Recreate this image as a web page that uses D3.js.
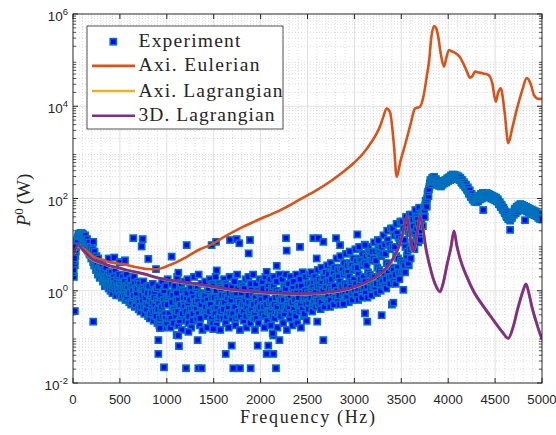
<!DOCTYPE html>
<html>
<head>
<meta charset="utf-8">
<script src="https://cdn.jsdelivr.net/npm/d3@7"></script>
<style>
  html, body { margin: 0; padding: 0; background: #fff; }
  svg { display: block; }
</style>
</head>
<body>
<svg id="chart" width="556" height="435"></svg>
<script>
// ---------------- DATA ----------------
const xTicks = [0, 500, 1000, 1500, 2000, 2500, 3000, 3500, 4000, 4500, 5000];
const yTickExps = [-2, 0, 2, 4, 6];

const seriesNames = ["Experiment", "Axi. Eulerian", "Axi. Lagrangian", "3D. Lagrangian"];

// Experiment, sweep A: 10..5000 Hz (step 10), values as log10(P)
const expBandFreq = d3.range(10, 5001, 10);
const expBandLog = [
  0.30, 0.55, 0.85, 1.05, 1.15, 1.20, 1.24, 1.25, 1.25, 1.24,
  1.22, 1.15, 1.20, 1.10, 1.12, 1.00, 1.05, 0.92, 0.95, 0.82,
  0.90, 0.70, 0.85, 0.60, 0.75, 0.50, 0.70, 0.40, 0.60, 0.35,
  0.55, 0.20, 0.45, 0.10, 0.50, 0.15, 0.35, 0.05, 0.40, 0.00,
  0.40, -0.05, 0.30, 0.10, 0.45, -0.10, 0.25, 0.05, 0.35, -0.10,
  0.62, -0.15, 0.30, 0.00, 0.20, -0.20, 0.35, -0.05, 0.15, -0.25,
  0.25, -0.30, 0.10, -0.15, 0.30, -0.35, 0.05, -0.20, 0.20, -0.40,
  0.15, -0.45, 0.00, -0.20, 0.20, -0.50, -0.05, -0.30, 0.10, -0.55,
  0.10, -0.60, -0.10, -0.35, 0.15, -0.65, -0.05, -0.40, 0.05, -0.70,
  0.10, -0.75, -0.15, -0.40, 0.20, -0.80, 0.00, -0.50, 0.10, -0.70,
  0.25, -0.60, -0.10, -0.80, 0.15, -0.35, -0.70, 0.05, -0.45, -0.20,
  0.30, -0.75, -0.25, 0.10, -0.55, -0.85, 0.00, -0.30, 0.20, -0.65,
  -0.15, 0.25, -0.70, -0.40, 0.10, -0.80, -0.05, -0.50, 0.30, -0.25,
  0.05, -0.60, -0.20, 0.35, -0.75, -0.35, 0.15, -0.85, -0.10, -0.45,
  0.20, -0.50, -0.80, 0.00, -0.30, 0.25, -0.65, -0.15, -0.70, 0.10,
  -0.40, 0.30, -0.75, -0.20, 0.15, -0.55, -0.85, 0.05, -0.30, -0.60,
  0.25, -0.10, -0.70, 0.10, -0.45, -0.80, 0.30, -0.25, -0.60, 0.00,
  -0.35, 0.20, -0.75, -0.05, 0.35, -0.55, -0.20, -0.85, 0.15, -0.40,
  0.10, -0.65, -0.30, 0.25, -0.80, -0.10, 0.30, -0.50, -0.70, 0.05,
  -0.25, 0.35, -0.60, -0.85, 0.15, -0.40, 0.00, -0.70, 0.25, -0.15,
  -0.55, 0.20, -0.30, -0.80, 0.30, -0.10, -0.65, 0.10, -0.45, 0.25,
  -0.75, 0.05, -0.35, 0.30, -0.60, -0.15, 0.20, -0.80, -0.05, 0.35,
  -0.50, -0.20, 0.25, -0.70, 0.10, -0.40, 0.35, -0.85, -0.10, 0.15,
  -0.60, 0.30, -0.25, -0.75, 0.20, -0.05, -0.50, 0.35, -0.70, 0.10,
  -0.35, 0.25, -0.80, 0.00, 0.40, -0.55, -0.15, 0.30, -0.65, 0.15,
  -0.40, 0.35, -0.10, 0.40, -0.45, 0.10, -0.25, 0.30, -0.35, 0.20,
  0.45, -0.30, 0.15, -0.40, 0.50, -0.05, 0.30, -0.35, 0.40, -0.15,
  0.55, -0.25, 0.20, -0.35, 0.60, 0.00, 0.40, -0.30, 0.50, -0.10,
  0.70, -0.20, 0.30, -0.30, 0.75, 0.05, 0.45, -0.25, 0.60, -0.05,
  0.80, -0.15, 0.40, -0.25, 0.85, 0.10, 0.55, -0.20, 0.70, 0.00,
  0.90, -0.10, 0.50, -0.20, 0.95, 0.15, 0.65, -0.15, 0.80, 0.05,
  1.00, -0.05, 0.55, -0.15, 0.95, 0.20, 0.75, -0.10, 0.85, 0.10,
  1.05, 0.05, 0.65, -0.05, 1.10, 0.30, 0.85, 0.00, 0.95, 0.20,
  1.20, 0.10, 0.80, 0.05, 1.30, 0.40, 1.00, 0.15, 1.35, 0.30,
  1.35, 0.20, 0.95, 0.15, 1.45, 0.50, 1.15, 0.25, 1.50, 0.40,
  1.50, 0.45, 1.10, 0.40, 1.60, 0.75, 1.30, 0.55, 1.65, 0.70,
  1.65, 0.95, 1.40, 0.90, 1.75, 1.15, 1.55, 1.05, 1.80, 1.20,
  1.45, 1.70, 1.40, 1.80, 1.60, 1.95, 1.85, 2.10, 2.05, 2.25,
  2.40, 2.30, 2.45, 2.38, 2.47, 2.35, 2.42, 2.30, 2.38, 2.28,
  2.32, 2.26, 2.34, 2.30, 2.38, 2.33, 2.40, 2.35, 2.44, 2.38,
  2.46, 2.40, 2.50, 2.43, 2.52, 2.45, 2.51, 2.44, 2.50, 2.42,
  2.48, 2.40, 2.45, 2.36, 2.40, 2.30, 2.35, 2.26, 2.30, 2.20,
  2.24, 2.12, 2.18, 2.05, 2.10, 1.98, 2.04, 1.93, 2.00, 1.92,
  2.02, 1.94, 2.06, 1.98, 2.10, 2.00, 2.12, 2.02, 2.10, 2.03,
  2.12, 2.04, 2.10, 2.03, 2.08, 2.00, 2.06, 1.98, 2.04, 1.96,
  2.02, 1.94, 1.98, 1.88, 1.92, 1.82, 1.86, 1.76, 1.80, 1.70,
  1.72, 1.62, 1.66, 1.55, 1.60, 1.52, 1.62, 1.58, 1.70, 1.65,
  1.78, 1.68, 1.82, 1.72, 1.85, 1.76, 1.88, 1.78, 1.86, 1.76,
  1.84, 1.74, 1.82, 1.72, 1.80, 1.70, 1.78, 1.68, 1.76, 1.66,
  1.74, 1.64, 1.72, 1.62, 1.68, 1.58, 1.66, 1.55, 1.62, 1.55
];

// Experiment, sweep B: 5..4995 Hz (step 10), values as log10(P)
const expBand2Freq = d3.range(5, 5000, 10);
const expBand2Log = [
  0.40, 0.65, 0.75, 0.95, 1.10, 1.18, 1.22, 1.20, 1.18, 1.15,
  1.18, 1.10, 1.05, 1.00, 0.95, 0.90, 0.85, 0.80, 0.78, 0.70,
  0.75, 0.62, 0.55, 0.68, 0.45, 0.55, 0.35, 0.48, 0.28, 0.45,
  0.30, 0.40, 0.25, 0.30, 0.20, 0.28, 0.12, 0.22, 0.15, 0.25,
  0.15, 0.20, 0.05, 0.22, 0.15, 0.02, 0.18, 0.10, -0.02, 0.15,
  0.10, 0.05, -0.10, 0.12, 0.05, -0.10, 0.10, -0.15, 0.05, -0.05,
  -0.05, 0.10, -0.25, 0.00, -0.10, 0.15, -0.30, -0.05, 0.05, -0.20,
  -0.25, 0.05, -0.35, -0.10, 0.05, -0.35, 0.00, -0.15, -0.40, -0.05,
  -0.30, -0.20, -0.50, -0.05, -0.25, -0.45, -0.15, -0.30, -0.55, -0.20,
  -0.40, -0.25, -0.60, -0.10, -0.35, -0.55, -0.20, -0.30, -0.60, -0.15,
  -0.30, -0.15, -0.50, -0.05, -0.60, -0.25, -0.10, -0.40, 0.10, -0.55,
  -0.05, -0.45, -0.20, -0.65, -0.30, 0.15, -0.50, -0.15, -0.35, 0.00,
  -0.45, -0.05, -0.30, -0.55, -0.20, 0.05, -0.40, -0.65, -0.15, -0.35,
  -0.25, -0.40, 0.10, -0.50, -0.10, -0.60, -0.30, -0.05, -0.45, -0.20,
  -0.10, -0.35, -0.55, -0.20, 0.05, -0.45, -0.30, -0.60, 0.15, -0.40,
  -0.15, -0.50, 0.00, -0.35, -0.60, -0.25, 0.10, -0.45, -0.10, -0.30,
  -0.40, -0.25, 0.15, -0.55, -0.15, -0.35, -0.05, -0.50, -0.20, 0.10,
  -0.50, -0.10, -0.35, -0.60, -0.20, 0.05, -0.45, -0.25, -0.55, -0.05,
  -0.30, -0.45, 0.05, -0.20, -0.55, -0.35, -0.10, -0.25, -0.45, 0.15,
  -0.40, -0.05, -0.30, -0.50, -0.15, -0.60, -0.25, -0.40, -0.05, -0.35,
  -0.20, -0.50, 0.05, -0.35, -0.55, -0.15, -0.30, -0.45, 0.00, -0.25,
  -0.45, -0.20, -0.55, 0.10, -0.30, -0.45, 0.00, -0.35, -0.50, -0.10,
  -0.25, -0.55, -0.05, -0.35, -0.20, -0.50, 0.05, -0.40, -0.30, -0.15,
  -0.35, -0.10, -0.50, -0.25, 0.05, -0.40, -0.20, -0.55, -0.05, -0.30,
  -0.15, -0.45, -0.30, 0.10, -0.40, -0.20, -0.50, 0.00, -0.30, -0.15,
  -0.05, -0.25, 0.15, -0.15, 0.05, -0.30, 0.20, -0.10, 0.00, -0.20,
  0.10, -0.20, 0.25, -0.05, -0.25, 0.20, 0.00, 0.30, -0.15, 0.10,
  0.20, -0.10, 0.35, 0.05, -0.20, 0.25, -0.05, 0.40, 0.10, -0.15,
  0.30, 0.00, 0.45, -0.10, 0.20, 0.50, 0.10, -0.05, 0.35, 0.15,
  0.40, 0.10, 0.55, 0.00, 0.30, 0.60, 0.20, -0.05, 0.45, 0.25,
  0.50, 0.15, 0.65, 0.05, 0.35, 0.70, 0.25, 0.00, 0.55, 0.30,
  0.60, 0.20, 0.75, 0.10, 0.40, 0.80, 0.35, 0.05, 0.65, 0.30,
  0.70, 0.30, 0.85, 0.15, 0.50, 0.90, 0.45, 0.15, 0.75, 0.40,
  0.80, 0.35, 1.00, 0.25, 0.60, 1.10, 0.55, 0.30, 0.90, 0.50,
  0.95, 0.45, 1.20, 0.35, 0.75, 1.25, 0.70, 0.40, 1.05, 0.65,
  1.10, 0.60, 1.35, 0.55, 0.95, 1.45, 0.85, 0.60, 1.25, 0.90,
  1.30, 1.05, 1.55, 1.00, 1.25, 1.60, 1.35, 1.10, 1.45, 1.30,
  1.30, 1.55, 1.60, 1.65, 1.75, 1.85, 1.95, 2.00, 2.15, 2.20,
  2.33, 2.38, 2.36, 2.44, 2.40, 2.42, 2.36, 2.34, 2.33, 2.32,
  2.28, 2.30, 2.28, 2.35, 2.33, 2.36, 2.37, 2.40, 2.40, 2.42,
  2.42, 2.45, 2.45, 2.48, 2.48, 2.50, 2.47, 2.48, 2.46, 2.46,
  2.44, 2.43, 2.40, 2.40, 2.34, 2.35, 2.30, 2.30, 2.24, 2.24,
  2.18, 2.16, 2.10, 2.10, 2.03, 2.04, 1.98, 1.98, 1.96, 1.96,
  1.97, 2.00, 2.01, 2.04, 2.04, 2.06, 2.06, 2.07, 2.06, 2.07,
  2.07, 2.08, 2.06, 2.06, 2.05, 2.04, 2.03, 2.02, 2.01, 2.00,
  1.99, 1.98, 1.94, 1.93, 1.88, 1.87, 1.82, 1.81, 1.76, 1.75,
  1.68, 1.67, 1.60, 1.60, 1.56, 1.56, 1.57, 1.60, 1.64, 1.68,
  1.72, 1.74, 1.76, 1.78, 1.80, 1.81, 1.82, 1.83, 1.82, 1.81,
  1.80, 1.79, 1.78, 1.77, 1.76, 1.75, 1.74, 1.73, 1.72, 1.71,
  1.70, 1.69, 1.68, 1.67, 1.64, 1.63, 1.61, 1.60, 1.58, 1.58
];

// Experiment: scattered points off the main band (Hz, log10 P)
const expExtraFreq = [
  5, 15, 25, 20, 216, 216, 380, 440, 500, 554, 643, 743, 732, 803, 885, 1052, 1123,
  1212, 1478, 1525, 1674, 1745, 1773, 1887, 1873, 2271, 2278, 2420, 1532, 2065, 2172,
  2562, 2615, 2598, 2669, 2804, 2847, 3031, 3113, 3255,
  910, 910, 927, 970, 1105, 1130, 1123, 1205, 1230, 1329, 1336, 1372, 1496, 1628, 1692,
  1709, 1780, 1894, 1969, 2082, 2065, 2136, 2164, 2136, 2200, 2129, 2669, 2604, 2882,
  3137, 3113, 3291, 3400, 3415, 3522,
  3700, 3770, 4374, 4660, 4819, 5000
];
const expExtraLog = [
  0.45, 0.70, 0.95, -0.44, -0.67, 1.06, 0.70, 0.72, 0.62, 0.66, 1.14, 1.12, 0.96, 0.69, 0.47, 0.74, 0.39,
  0.99, 0.99, 1.06, 1.10, 1.12, 1.03, 1.10, 0.81, 1.14, 0.87, 0.95, 0.44, 0.41, 0.54,
  1.14, 1.14, 0.70, 1.06, 1.14, 0.99, 1.22, 0.99, 1.09,
  -1.07, -1.37, -0.81, -1.66, -0.96, -1.20, -0.97, -1.68, -0.89, -1.07, -1.68, -1.68, -0.83, -1.37, -1.19,
  -1.68, -1.68, -1.68, -1.19, -1.19, -1.37, -1.37, -1.68, -0.97, -1.07, -0.92, -1.07, -0.67, -0.29,
  -0.67, -0.49, -0.53, -0.30, -0.26, 0.02,
  1.10, 1.82, 1.75, 1.32, 1.53, 1.55
];

// Axi. Eulerian (Hz, log10 P)
const eulFreq = [
  10, 53, 120, 216, 300, 394, 480, 572, 680, 786, 892, 960, 1034, 1105, 1200, 1354, 1461,
  1640, 1816, 2000, 2172, 2242, 2420, 2598, 2750, 2882, 3000, 3095, 3180, 3238, 3280, 3308,
  3344, 3380, 3420, 3451, 3490, 3540, 3600, 3646, 3699, 3740, 3771, 3800, 3817, 3849, 3870,
  3891, 3920, 3955, 3980, 4008, 4040, 4072, 4120, 4161, 4200, 4232, 4260, 4286, 4330, 4374,
  4428, 4470, 4507, 4530, 4560, 4600, 4641, 4680, 4730, 4790, 4837, 4880, 4915, 4960, 5000
];
const eulLog = [
  0.78, 0.97, 0.90, 0.74, 0.68, 0.62, 0.59, 0.56, 0.51, 0.47, 0.465, 0.50, 0.56, 0.62, 0.72, 0.90, 0.99,
  1.20, 1.39, 1.56, 1.71, 1.78, 1.98, 2.18, 2.38, 2.58, 2.78, 2.98, 3.22, 3.41, 3.60, 3.77,
  3.95, 3.87, 3.20, 2.47, 2.80, 3.16, 3.62, 3.95, 3.99, 4.25, 4.64, 5.05, 5.44, 5.74, 5.70,
  5.54, 5.15, 4.86, 5.05, 5.22, 5.19, 5.16, 5.08, 4.93, 4.75, 4.62, 4.66, 4.75, 4.73, 4.71,
  4.68, 4.50, 4.10, 4.28, 4.39, 3.90, 3.20, 3.50, 3.92, 4.35, 4.61, 4.48, 4.24, 4.16, 4.16
];

// Lagrangian models (Hz, log10 P)
const lagFreq = [
  10, 53, 120, 216, 300, 394, 480, 572, 750, 927, 1100, 1283, 1460, 1639, 1820, 1994, 2170,
  2349, 2500, 2633, 2760, 2882, 2980, 3060, 3160, 3238, 3320, 3380, 3440, 3486, 3529, 3557,
  3582, 3610, 3628, 3650, 3675, 3699, 3731, 3760, 3806, 3860, 3913, 3950, 3987, 4030, 4062,
  4090, 4126, 4200, 4268, 4380, 4481, 4580, 4641, 4690, 4740, 4790, 4829, 4860, 4893, 4950, 5000
];
const axiLagLog = [
  0.79, 0.98, 0.84, 0.66, 0.60, 0.53, 0.49, 0.44, 0.36, 0.26, 0.20, 0.15, 0.09, 0.03, -0.01, -0.04, -0.06,
  -0.07, -0.07, -0.06, -0.03, 0.01, 0.06, 0.12, 0.21, 0.30, 0.44, 0.58, 0.78, 1.02, 1.35, 1.61,
  1.34, 0.94, 0.85, 0.99, 1.34, 1.61, 1.34, 0.94, 0.51, 0.14, -0.03, 0.19, 0.55, 0.94, 1.29,
  0.99, 0.69, 0.29, -0.01, -0.36, -0.64, -0.91, -1.04, -0.81, -0.41, -0.06, 0.14, -0.06, -0.36, -0.76, -1.06
];
const d3LagLog = [
  0.80, 0.99, 0.85, 0.67, 0.61, 0.54, 0.50, 0.45, 0.37, 0.27, 0.21, 0.16, 0.10, 0.04, 0.00, -0.03, -0.05,
  -0.06, -0.06, -0.05, -0.02, 0.02, 0.07, 0.13, 0.22, 0.31, 0.45, 0.60, 0.80, 1.03, 1.36, 1.62,
  1.35, 0.95, 0.86, 1.00, 1.35, 1.62, 1.35, 0.95, 0.52, 0.15, -0.02, 0.20, 0.56, 0.95, 1.30,
  1.00, 0.70, 0.30, 0.00, -0.35, -0.63, -0.90, -1.03, -0.80, -0.40, -0.05, 0.15, -0.05, -0.35, -0.75, -1.05
];

// ---------------- CHART ----------------
const m = { left: 73, top: 14, right: 542, bottom: 383 };
const axisColor = "#262626";

const svg = d3.select("#chart");

const x = d3.scaleLinear().domain([0, 5000]).range([m.left, m.right]);
const y = d3.scaleLog().domain([1e-2, 1e6]).range([m.bottom, m.top]);

svg.append("defs").append("clipPath").attr("id", "plotclip")
  .append("rect").attr("x", m.left).attr("y", m.top)
  .attr("width", m.right - m.left).attr("height", m.bottom - m.top);

// minor grid
const gGrid = svg.append("g");
const minorX = d3.range(100, 5000, 100).filter(v => v % 500 !== 0);
gGrid.selectAll("line.mx").data(minorX).join("line")
  .attr("x1", d => x(d)).attr("x2", d => x(d))
  .attr("y1", m.top).attr("y2", m.bottom)
  .attr("stroke", "#c8c8c8").attr("stroke-width", 0.6).attr("stroke-dasharray", "1,2");
const minorY = [];
for (let e = -2; e < 6; e++) for (let k = 2; k <= 9; k++) minorY.push(k * Math.pow(10, e));
gGrid.selectAll("line.my").data(minorY).join("line")
  .attr("x1", m.left).attr("x2", m.right)
  .attr("y1", d => y(d)).attr("y2", d => y(d))
  .attr("stroke", "#c8c8c8").attr("stroke-width", 0.6).attr("stroke-dasharray", "1,2");
// major grid
gGrid.selectAll("line.gx").data(xTicks.slice(1, -1)).join("line")
  .attr("x1", d => x(d)).attr("x2", d => x(d))
  .attr("y1", m.top).attr("y2", m.bottom)
  .attr("stroke", "#e0e0e0").attr("stroke-width", 1);
gGrid.selectAll("line.gy").data(yTickExps.slice(1, -1)).join("line")
  .attr("x1", m.left).attr("x2", m.right)
  .attr("y1", d => y(Math.pow(10, d))).attr("y2", d => y(Math.pow(10, d)))
  .attr("stroke", "#e0e0e0").attr("stroke-width", 1);

// plot content
const gPlot = svg.append("g").attr("clip-path", "url(#plotclip)");

const expPoints = [];
expBandFreq.forEach((f, i) => {
  expPoints.push([f, expBandLog[i]]);
  if (i < expBand2Freq.length) expPoints.push([expBand2Freq[i], expBand2Log[i]]);
});
expExtraFreq.forEach((f, i) => expPoints.push([f, expExtraLog[i]]));

const ms = 6.2;
gPlot.append("g").selectAll("rect").data(expPoints).join("rect")
  .attr("x", d => x(d[0]) - ms / 2)
  .attr("y", d => y(Math.pow(10, d[1])) - ms / 2)
  .attr("width", ms).attr("height", ms)
  .attr("fill", "#0000ff").attr("stroke", "#0072BD").attr("stroke-width", 1.6);

const line = d3.line()
  .x(d => x(d[0])).y(d => y(Math.pow(10, d[1])))
  .curve(d3.curveMonotoneX);

gPlot.append("path")
  .datum(eulFreq.map((f, i) => [f, eulLog[i]]))
  .attr("d", line).attr("fill", "none")
  .attr("stroke", "#D95319").attr("stroke-width", 2.6).attr("stroke-linejoin", "round");
gPlot.append("path")
  .datum(lagFreq.map((f, i) => [f, axiLagLog[i]]))
  .attr("d", line).attr("fill", "none")
  .attr("stroke", "#EDB120").attr("stroke-width", 2.8).attr("stroke-linejoin", "round");
gPlot.append("path")
  .datum(lagFreq.map((f, i) => [f, d3LagLog[i]]))
  .attr("d", line).attr("fill", "none")
  .attr("stroke", "#7E2F8E").attr("stroke-width", 2.8).attr("stroke-linejoin", "round");

// axes box and ticks
const gAx = svg.append("g");
gAx.append("rect").attr("x", m.left).attr("y", m.top)
  .attr("width", m.right - m.left).attr("height", m.bottom - m.top)
  .attr("fill", "none").attr("stroke", axisColor).attr("stroke-width", 1);

const tl = 5, tlm = 3;
xTicks.forEach(t => {
  gAx.append("line").attr("x1", x(t)).attr("x2", x(t)).attr("y1", m.bottom).attr("y2", m.bottom - tl)
    .attr("stroke", axisColor);
  gAx.append("line").attr("x1", x(t)).attr("x2", x(t)).attr("y1", m.top).attr("y2", m.top + tl)
    .attr("stroke", axisColor);
  gAx.append("text").attr("x", x(t)).attr("y", 403.5)
    .attr("text-anchor", "middle")
    .attr("font-family", "'Liberation Sans', Arial, sans-serif").attr("font-size", 13.2)
    .attr("fill", axisColor).text(t);
});
yTickExps.forEach(e => {
  const yy = y(Math.pow(10, e));
  gAx.append("line").attr("x1", m.left).attr("x2", m.left + tl).attr("y1", yy).attr("y2", yy).attr("stroke", axisColor);
  gAx.append("line").attr("x1", m.right).attr("x2", m.right - tl).attr("y1", yy).attr("y2", yy).attr("stroke", axisColor);
  const t = gAx.append("text").attr("x", 68).attr("y", yy + 7)
    .attr("text-anchor", "end")
    .attr("font-family", "'Liberation Sans', Arial, sans-serif").attr("font-size", 13.5)
    .attr("fill", axisColor);
  t.append("tspan").text("10");
  t.append("tspan").attr("dy", -6.5).attr("font-size", 9.5).text(e);
});
minorY.forEach(v => {
  const yy = y(v);
  gAx.append("line").attr("x1", m.left).attr("x2", m.left + tlm).attr("y1", yy).attr("y2", yy).attr("stroke", axisColor).attr("stroke-width", 0.8);
  gAx.append("line").attr("x1", m.right).attr("x2", m.right - tlm).attr("y1", yy).attr("y2", yy).attr("stroke", axisColor).attr("stroke-width", 0.8);
});

// axis labels
const serif = "'Liberation Serif', 'Times New Roman', serif";
svg.append("text").attr("x", (m.left + m.right) / 2).attr("y", 422.5)
  .attr("text-anchor", "middle").attr("font-family", serif).attr("font-size", 18)
  .attr("fill", axisColor).attr("textLength", 135).attr("lengthAdjust", "spacing")
  .text("Frequency (Hz)");

const yl = svg.append("text").attr("transform", "translate(30,200) rotate(-90)")
  .attr("text-anchor", "middle").attr("font-family", serif).attr("font-size", 19)
  .attr("fill", axisColor);
yl.append("tspan").attr("font-style", "italic").text("P");
yl.append("tspan").attr("dy", -7).attr("font-size", 13).text("0");
yl.append("tspan").attr("dy", 7).text("\u2009(W)");

// legend
const lg = svg.append("g");
lg.append("rect").attr("x", 87).attr("y", 26).attr("width", 196).attr("height", 103)
  .attr("fill", "#fff").attr("stroke", axisColor).attr("stroke-width", 0.8);
const legY = [41.7, 65.9, 91, 115.8];
const legW = [102, 121, 144, 136];
const legColors = [null, "#D95319", "#EDB120", "#7E2F8E"];
seriesNames.forEach((name, i) => {
  if (i === 0) {
    lg.append("rect").attr("x", 113.3 - ms / 2).attr("y", legY[i] - ms / 2)
      .attr("width", ms).attr("height", ms)
      .attr("fill", "#0000ff").attr("stroke", "#0072BD").attr("stroke-width", 1.6);
  } else {
    lg.append("line").attr("x1", 92).attr("x2", 135).attr("y1", legY[i]).attr("y2", legY[i])
      .attr("stroke", legColors[i]).attr("stroke-width", 2.6);
  }
  lg.append("text").attr("x", 138.5).attr("y", legY[i] + 5.5)
    .attr("font-family", serif).attr("font-size", 19.5).attr("fill", axisColor)
    .attr("textLength", legW[i]).attr("lengthAdjust", "spacing")
    .text(name);
});
</script>
</body>
</html>
